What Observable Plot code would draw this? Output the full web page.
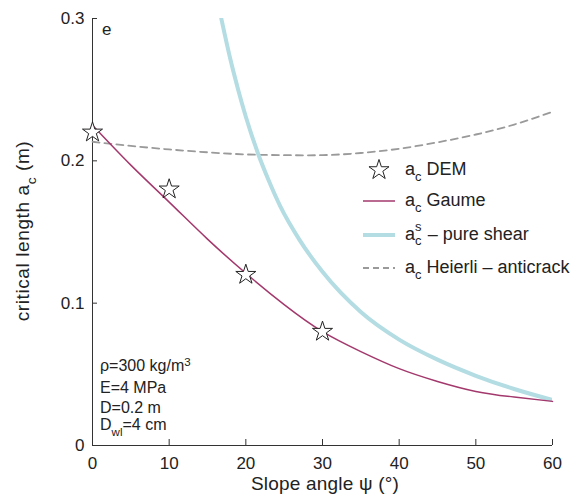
<!DOCTYPE html>
<html><head><meta charset="utf-8">
<script src="https://cdn.jsdelivr.net/npm/d3@7"></script>
<script src="https://cdn.jsdelivr.net/npm/@observablehq/plot@0.6"></script>
<style>
body{margin:0;background:#fff;font-family:"Liberation Sans",Arial,Helvetica,sans-serif;}
#wrap{position:relative;width:582px;height:499px;overflow:hidden;}
.ov{position:absolute;color:#222;white-space:nowrap;line-height:1;}
.sb{position:relative;font-size:0.72em;top:0.5em;}
.ss{position:relative;display:inline-block;font-size:0.72em;width:0.6em;height:1em;}
.ss .u{position:absolute;left:0;top:-0.45em;line-height:0.9;}
.ss .d{position:absolute;left:0;top:0.6em;line-height:0.9;}
.leg{position:absolute;left:360px;font-size:18px;color:#222;white-space:nowrap;line-height:1;}
.leg svg{position:absolute;left:0;top:-6px;overflow:visible;}
.leg span.t{position:absolute;left:45px;top:-10px;}
</style></head><body><div id="wrap"></div>
<script>
// ---- data ----
const xTicks = [0, 10, 20, 30, 40, 50, 60];
const yTicks = [0, 0.1, 0.2, 0.3];
const yTickLabels = ["0", "0.1", "0.2", "0.3"];

const demAngle = [0, 10, 20, 30];
const demLength = [0.22, 0.18, 0.12, 0.08];

const gaumeAngle = [0, 5, 10, 15, 20, 25, 30, 35, 40, 45, 50, 55, 60];
const gaumeLength = [0.225, 0.197, 0.171, 0.145, 0.121, 0.099, 0.080, 0.066, 0.054, 0.045, 0.038, 0.034, 0.031];

const shearAngle = [16.8, 18, 19, 20, 21.6, 23, 24.5, 27, 30, 35, 40, 45, 50, 55, 60];
const shearLength = [0.300, 0.271, 0.250, 0.231, 0.205, 0.186, 0.168, 0.1445, 0.122, 0.0938, 0.0744, 0.0603, 0.049, 0.0397, 0.032];

const heierliAngle = [0, 5, 10, 15, 20, 25, 30, 35, 40, 45, 50, 55, 60];
const heierliLength = [0.2134, 0.2105, 0.208, 0.206, 0.2045, 0.204, 0.204, 0.2055, 0.2085, 0.213, 0.2185, 0.2255, 0.2345];

const toRows = (xs, ys) => xs.map((x, i) => ({x, y: ys[i]}));

const chart = Plot.plot({
  width: 582, height: 499,
  marginLeft: 92, marginRight: 30, marginTop: 18, marginBottom: 54,
  style: {fontFamily: "Liberation Sans, Arial, Helvetica, sans-serif", fontSize: "17px", color: "#222", background: "white"},
  x: {domain: [0, 60], label: null},
  y: {domain: [0, 0.3], label: null},
  marks: [
    Plot.axisX(xTicks, {tickSize: 0, tickPadding: 11, label: null, fontSize: 17, tickFormat: d => String(d)}),
    Plot.axisY(yTicks, {tickSize: 0, tickPadding: 8, label: null, fontSize: 17, tickFormat: d => yTickLabels[yTicks.indexOf(d)]}),
    Plot.tickX(xTicks, {x: d => d, insetTop: 421, stroke: "#333"}),
    Plot.tickY(yTicks, {y: d => d, insetRight: 455, stroke: "#333"}),
    Plot.ruleX([0], {stroke: "#333"}),
    Plot.ruleY([0], {stroke: "#333"}),
    Plot.line(toRows(heierliAngle, heierliLength), {x: "x", y: "y", stroke: "#9a9a9a", strokeWidth: 1.8, strokeDasharray: "7,5", curve: "natural"}),
    Plot.line(toRows(shearAngle, shearLength), {x: "x", y: "y", stroke: "#b3dce3", strokeWidth: 4, curve: "monotone-x", clip: true}),
    Plot.line(toRows(gaumeAngle, gaumeLength), {x: "x", y: "y", stroke: "#a3386c", strokeWidth: 1.5, curve: "natural"}),
    Plot.dot(toRows(demAngle, demLength), {x: "x", y: "y", symbol: "star", r: 6.3, fill: "white", stroke: "#222", strokeWidth: 1})
  ]
});

const wrap = document.getElementById("wrap");
wrap.appendChild(chart);

const starPath = d3.symbol().type(d3.symbolStar).size(Math.PI * 6.3 * 6.3)();

const html = `
<div class="ov" style="left:102px;top:21px;font-size:17px;">e</div>
<div class="ov" style="left:22px;top:231px;font-size:19px;letter-spacing:0.6px;transform:translate(-50%,-50%) rotate(-90deg);">critical length a<span class="sb">c</span> (m)</div>
<div class="ov" style="left:325px;top:474px;font-size:19px;letter-spacing:0.2px;transform:translateX(-50%);">Slope angle ψ (°)</div>
<div class="ov" style="left:100px;top:358px;font-size:16px;">ρ=300 kg/m<span style="position:relative;top:-0.45em;font-size:0.72em;">3</span></div>
<div class="ov" style="left:100px;top:380px;font-size:16px;">E=4 MPa</div>
<div class="ov" style="left:100px;top:400px;font-size:16px;">D=0.2 m</div>
<div class="ov" style="left:100px;top:417px;font-size:16px;">D<span class="sb">wl</span>=4 cm</div>

<div class="leg" style="top:170px;"><svg width="40" height="12"><path d="${starPath}" transform="translate(19,6)" fill="white" stroke="#222"/></svg><span class="t">a<span class="sb">c</span> DEM</span></div>
<div class="leg" style="top:201px;"><svg width="40" height="12"><line x1="3" x2="35" y1="6" y2="6" stroke="#a3386c" stroke-width="1.5"/></svg><span class="t">a<span class="sb">c</span> Gaume</span></div>
<div class="leg" style="top:235px;"><svg width="40" height="12"><line x1="3" x2="35" y1="6" y2="6" stroke="#b3dce3" stroke-width="4"/></svg><span class="t">a<span class="ss"><span class="u">s</span><span class="d">c</span></span> – pure shear</span></div>
<div class="leg" style="top:268px;"><svg width="40" height="12"><line x1="3" x2="35" y1="6" y2="6" stroke="#9a9a9a" stroke-width="1.8" stroke-dasharray="6,4"/></svg><span class="t">a<span class="sb">c</span> Heierli – anticrack</span></div>
`;
const ov = document.createElement("div");
ov.innerHTML = html;
while (ov.firstElementChild) wrap.appendChild(ov.firstElementChild);
</script>
</body></html>
